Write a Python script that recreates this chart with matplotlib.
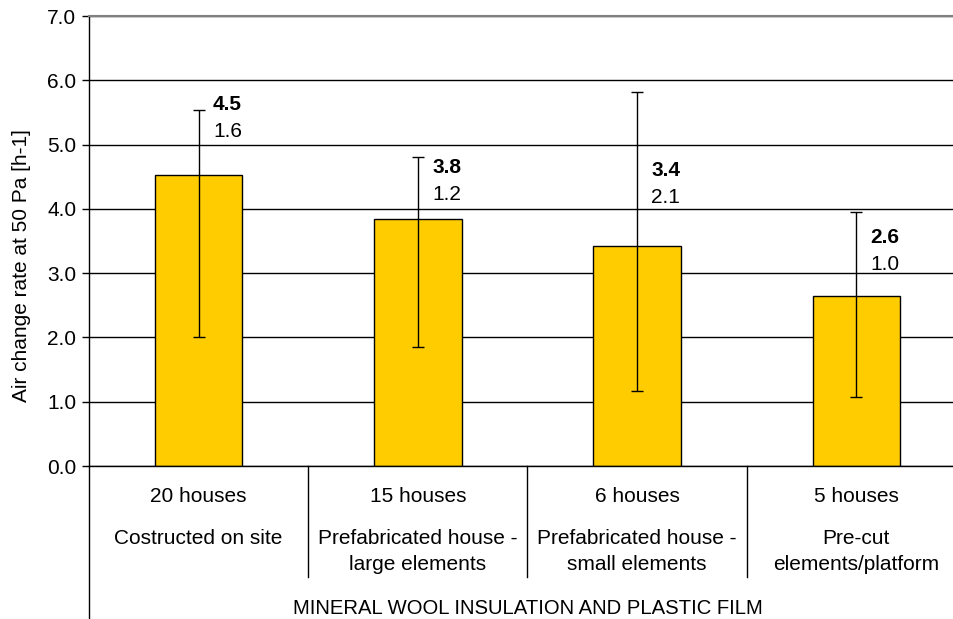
import matplotlib
matplotlib.use("Agg")
import matplotlib.pyplot as plt
import matplotlib.transforms as mtransforms

plt.rcParams["font.family"] = ["Liberation Sans", "DejaVu Sans"]

# data
counts = ["20 houses", "15 houses", "6 houses", "5 houses"]
types = ["Costructed on site", "Prefabricated house -\nlarge elements",
         "Prefabricated house -\nsmall elements", "Pre-cut\nelements/platform"]
means = [4.52, 3.84, 3.43, 2.64]
mean_labels = ["4.5", "3.8", "3.4", "2.6"]
std_labels = ["1.6", "1.2", "2.1", "1.0"]
lows = [2.01, 1.85, 1.16, 1.08]
highs = [5.54, 4.80, 5.82, 3.95]
group_title = "MINERAL WOOL INSULATION AND PLASTIC FILM"

# layout: height of the bold value label for each bar
label_y = [5.62, 4.65, 4.60, 3.56]

W, H = 954, 619
fig = plt.figure(figsize=(W / 100, H / 100), dpi=100)
ax = fig.add_axes([89 / W, 1 - 466 / H, 877 / W, 450 / H])

x = list(range(len(means)))
yerr = [[m - lo for m, lo in zip(means, lows)], [hi - m for m, hi in zip(means, highs)]]

ax.set_axisbelow(True)
ax.yaxis.grid(True, color="black", linewidth=1.0)
ax.bar(x, means, width=0.40, color="#FFCC00", edgecolor="black", linewidth=1.0, zorder=2)
ax.errorbar(x, means, yerr=yerr, fmt="none", ecolor="black", elinewidth=1.0,
            capsize=4.5, capthick=1.0, zorder=3)

for i in x:
    ax.text(i + 0.065, label_y[i], mean_labels[i], fontsize=15, fontweight="bold",
            ha="left", va="center", zorder=4)
    ax.text(i + 0.065, label_y[i] - 0.42, std_labels[i], fontsize=15,
            ha="left", va="center", zorder=4)

ax.set_xlim(-0.5, len(means) - 0.5)
ax.set_ylim(0, 7)
ax.set_yticks([0, 1, 2, 3, 4, 5, 6, 7])
ax.set_yticklabels([f"{v:.1f}" for v in range(8)])
ax.tick_params(axis="y", labelsize=15, length=5, width=1.0, pad=4)
ax.set_xticks([])

ax.spines["right"].set_visible(False)
ax.spines["top"].set_color("#808080")
ax.spines["top"].set_linewidth(1.5)
ax.spines["left"].set_linewidth(1.0)
ax.spines["bottom"].set_linewidth(1.0)

trans = mtransforms.blended_transform_factory(ax.transData, ax.transAxes)
ppx = 1 / 450  # axes fraction per pixel, vertically

# category table below the axis
for i in x:
    ax.text(i, -(497 - 466) * ppx, counts[i], transform=trans, fontsize=15,
            ha="center", va="center")
    for k, line in enumerate(types[i].split("\n")):
        ax.text(i, -(538 + 27 * k - 466) * ppx, line, transform=trans, fontsize=15,
                ha="center", va="center")
    if i > 0:
        ax.plot([i - 0.5, i - 0.5], [0, -(577 - 466) * ppx], transform=trans,
                color="black", linewidth=1.0, clip_on=False)

# left axis line runs down past the table
ax.plot([-0.5, -0.5], [0, -(619 - 466) * ppx], transform=trans, color="black",
        linewidth=1.0, clip_on=False)

ax.text(1.5, -(608 - 466) * ppx, group_title, transform=trans, fontsize=14.6,
        ha="center", va="center")

fig.text(22 / W, 1 - 266 / H, "Air change rate at 50 Pa [h-1]", rotation=90,
         fontsize=15, ha="center", va="center")

fig.savefig("out.png", dpi=100)
